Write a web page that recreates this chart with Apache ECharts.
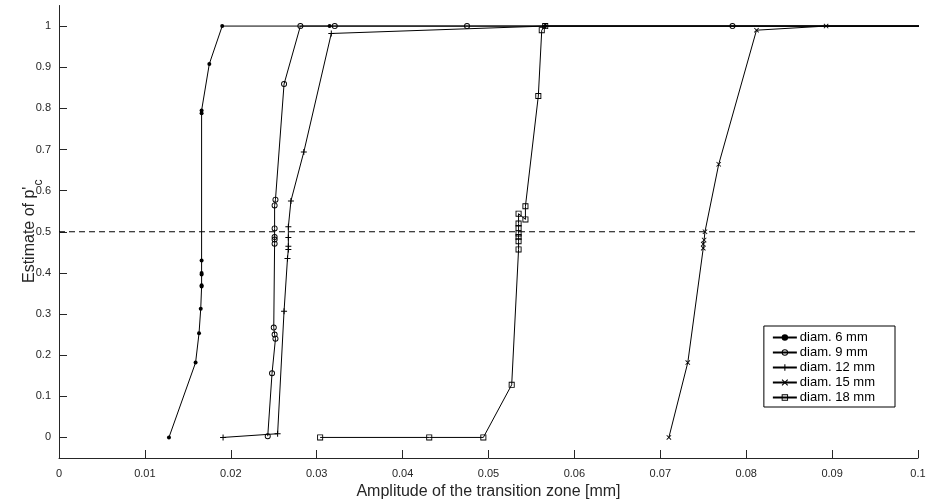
<!DOCTYPE html>
<html>
<head>
<meta charset="utf-8">
<script src="https://cdn.jsdelivr.net/npm/echarts@6/dist/echarts.min.js"></script>
<style>html,body{margin:0;padding:0;background:#fff;}#c{width:926px;height:504px;}</style>
</head>
<body>
<div id="c"></div>
<script>
// Data: [amplitude (mm), estimate of p'c]
const seriesNames = ['diam. 6 mm', 'diam. 9 mm', 'diam. 12 mm', 'diam. 15 mm', 'diam. 18 mm'];
const d6 = [[0.0128,0],[0.0159,0.182],[0.0163,0.253],[0.0165,0.313],[0.0166,0.367],[0.0166,0.37],[0.0166,0.396],[0.0166,0.40],[0.0166,0.43],[0.0166,0.788],[0.0166,0.795],[0.0175,0.908],[0.0190,1],[0.0315,1],[0.0566,1],[0.11,1]];
const d9 = [[0.0243,0.003],[0.0248,0.156],[0.0252,0.24],[0.0251,0.25],[0.0250,0.267],[0.0251,0.471],[0.0251,0.481],[0.0251,0.487],[0.0251,0.508],[0.0251,0.564],[0.0252,0.578],[0.0262,0.859],[0.0281,1],[0.0321,1],[0.0475,1],[0.0784,1],[0.11,1]];
const d12 = [[0.0191,0],[0.02545,0.009],[0.0262,0.307],[0.0266,0.435],[0.0267,0.457],[0.0267,0.465],[0.0267,0.486],[0.0267,0.512],[0.0270,0.575],[0.0285,0.694],[0.0317,0.982],[0.0566,1],[0.11,1]];
const d15 = [[0.0710,0],[0.0732,0.182],[0.0750,0.46],[0.0750,0.47],[0.0751,0.48],[0.0752,0.50],[0.0768,0.664],[0.0812,0.99],[0.0893,1],[0.11,1]];
const d18 = [[0.0304,0],[0.0431,0],[0.0494,0],[0.0527,0.128],[0.0535,0.457],[0.0535,0.477],[0.0535,0.487],[0.0535,0.496],[0.0535,0.509],[0.0535,0.52],[0.0535,0.544],[0.0543,0.53],[0.0543,0.562],[0.0558,0.83],[0.0562,0.99],[0.0566,1],[0.11,1]];
const threshold = [[0,0.5],[0.1,0.5]];
const yTicks = [0,0.1,0.2,0.3,0.4,0.5,0.6,0.7,0.8,0.9,1];
const yTitleMain = "Estimate of p'";
const yTitleSub = 'c';

const FONT = 'Liberation Sans';
const plusPath = 'path://M0,2.5h6v1H0z M2.5,0h1v6h-1z';
const crossPath = 'path://M0.7,0L6,5.3L5.3,6L0,0.7z M5.3,0L6,0.7L0.7,6L0,5.3z';
const ringPath = 'path://M3,0A3,3 0 1,1 3,6A3,3 0 1,1 3,0Z M3,0.9A2.1,2.1 0 1,0 3,5.1A2.1,2.1 0 1,0 3,0.9Z';
const squarePath = 'path://M0,0h6v6H0z M0.9,0.9v4.2h4.2v-4.2z';
const markers = [
  {symbol:'circle', size:4},
  {symbol:ringPath, size:6},
  {symbol:plusPath, size:6},
  {symbol:crossPath, size:5},
  {symbol:squarePath, size:6}
];
const datasets = [d6, d9, d12, d15, d18];

const series = datasets.map((d, i) => ({
  name: seriesNames[i],
  type: 'line',
  data: d,
  symbol: markers[i].symbol,
  symbolSize: markers[i].size,
  showAllSymbol: true,
  clip: true,
  lineStyle: {color:'#000', width:1},
  itemStyle: {color:'#000', borderWidth:0},
  emphasis: {disabled:true},
  animation: false,
  z: 3
}));
series.push({
  name: 'threshold', type:'line', data: threshold, symbol:'none',
  lineStyle:{color:'#000', width:1, type:[6,4]}, animation:false, z:2, silent:true
});

// measure main title width for subscript placement
const mctx = document.createElement('canvas').getContext('2d');
mctx.font = "16px 'Liberation Sans'";
const mainW = mctx.measureText(yTitleMain).width;
const titleStartY = 283;

const chart = echarts.init(document.getElementById('c'), null, {renderer:'canvas'});
chart.setOption({
  backgroundColor:'#fff',
  animation:false,
  grid:{left:59, right:8, top:5.5, bottom:46, containLabel:false, outerBoundsMode:'none'},
  xAxis:{
    type:'value', min:0, max:0.1, interval:0.01,
    name:'Amplitude of the transition zone [mm]', nameLocation:'middle', nameGap:20,
    nameTextStyle:{fontFamily:FONT, fontSize:16, color:'#262626'},
    axisLine:{show:true, onZero:false, lineStyle:{color:'#262626', width:1}},
    axisTick:{show:true, inside:true, length:8, lineStyle:{color:'#262626'}},
    axisLabel:{fontFamily:FONT, fontSize:11, color:'#262626', margin:10,
      formatter: v => String(Number(v.toFixed(3)))},
    splitLine:{show:false}
  },
  yAxis:{
    type:'value', min:-0.05, max:1.05,
    axisLine:{show:true, onZero:false, lineStyle:{color:'#262626', width:1}},
    axisTick:{show:true, inside:true, length:8, customValues: yTicks, lineStyle:{color:'#262626'}},
    axisLabel:{fontFamily:FONT, fontSize:11, color:'#262626', margin:8, customValues: yTicks,
      formatter: v => String(Number(v.toFixed(2)))},
    splitLine:{show:false}
  },
  graphic:[
    {type:'text', x:38, y:titleStartY, rotation:Math.PI/2, silent:true,
      style:{text:yTitleMain, font:"16px 'Liberation Sans'", fill:'#262626', align:'left', verticalAlign:'bottom'}},
    {type:'text', x:45, y:titleStartY - mainW - 1, rotation:Math.PI/2, silent:true,
      style:{text:yTitleSub, font:"12px 'Liberation Sans'", fill:'#262626', align:'left', verticalAlign:'bottom'}}
  ],
  legend:{
    data: seriesNames,
    orient:'vertical', right:31, top:326,
    backgroundColor:'#fff', borderColor:'#000', borderWidth:1, borderRadius:0,
    padding:[5,20,3,8], itemGap:2, itemWidth:24, itemHeight:8,
    textStyle:{fontFamily:FONT, fontSize:13, color:'#000', padding:[0,0,0,-2]},
    selectedMode:false
  },
  series: series
});
</script>
</body>
</html>
